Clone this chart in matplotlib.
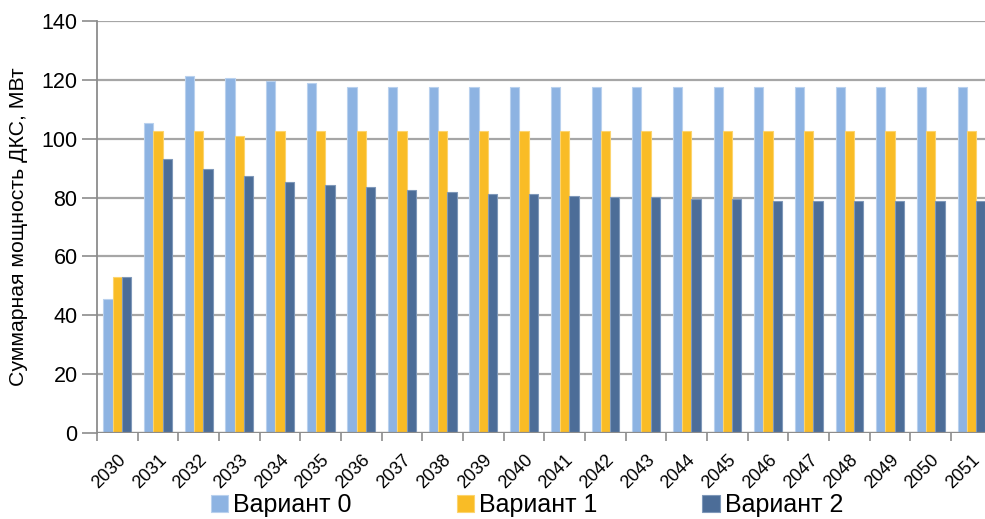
import matplotlib
matplotlib.use("Agg")
import matplotlib.pyplot as plt
import numpy as np

years = [str(y) for y in range(2030, 2052)]
variant0 = [45.4, 105.2, 121.3, 120.7, 119.6, 118.8, 117.7, 117.7, 117.7, 117.7, 117.7,
            117.7, 117.7, 117.7, 117.7, 117.7, 117.7, 117.7, 117.7, 117.7, 117.7, 117.7]
variant1 = [53.1, 102.7, 102.7, 100.9, 102.7, 102.7, 102.7, 102.7, 102.7, 102.7, 102.7,
            102.7, 102.7, 102.7, 102.7, 102.7, 102.7, 102.7, 102.7, 102.7, 102.7, 102.7]
variant2 = [53.1, 93.2, 89.7, 87.2, 85.4, 84.2, 83.7, 82.5, 81.8, 81.2, 81.2,
            80.6, 80.1, 80.1, 79.6, 79.6, 78.8, 78.8, 78.8, 78.8, 78.8, 78.8]
series_names = ["Вариант 0", "Вариант 1", "Вариант 2"]
colors = ["#8DB3E2", "#F9BC26", "#4C6D98"]
edge_colors = ["#B9D1EE", "#FCD46E", "#7F98B9"]

plt.rcParams["font.family"] = ["Liberation Sans", "DejaVu Sans"]

fig = plt.figure(figsize=(9.85, 5.19), dpi=100)
# plot area runs slightly past the right edge of the canvas
ax = fig.add_axes([0.0985, 0.1657, 0.9084, 0.7938])

x = np.arange(len(years))
w = 0.228
for i, (vals, c, ec, name) in enumerate(zip([variant0, variant1, variant2], colors, edge_colors, series_names)):
    ax.bar(x + (i - 1) * w, vals, width=w, color=c, edgecolor=ec, linewidth=0.8,
           label=name, zorder=3)

ax.set_xlim(-0.5, len(years) - 0.5)
ax.set_ylim(0, 140)
ax.set_yticks(np.arange(0, 141, 20))
ax.grid(axis="y", color="#A6A6A6", linewidth=1.6, zorder=0)
ax.set_axisbelow(True)

for s in ["top", "right", "bottom"]:
    ax.spines[s].set_visible(False)
ax.spines["left"].set_color("#8C8C8C")
ax.spines["left"].set_linewidth(1.3)
ax.axhline(0, color="#8C8C8C", linewidth=1.6, zorder=4)

ax.tick_params(axis="y", length=10.5, width=1.2, color="#8C8C8C", labelsize=15.5, pad=3.5)
ax.set_xticks(x)
ax.set_xticklabels(years, rotation=45, ha="right", va="top", rotation_mode="anchor", fontsize=13)
ax.tick_params(axis="x", length=0, pad=13)
ax.set_xticks(np.arange(-0.5, len(years), 1), minor=True)
ax.tick_params(axis="x", which="minor", length=6, width=1.2, color="#8C8C8C")

fig.text(19 / 985, 1 - 227 / 519, "Суммарная мощность ДКС, МВт", fontsize=15.3,
         rotation=90, ha="center", va="center")

fig.legend(loc="lower center", bbox_to_anchor=(0.535, -0.04), ncol=3, frameon=False,
           fontsize=18, handlelength=0.7, handleheight=0.7, handletextpad=0.2,
           columnspacing=4.2)

fig.savefig("out.png", dpi=100)
